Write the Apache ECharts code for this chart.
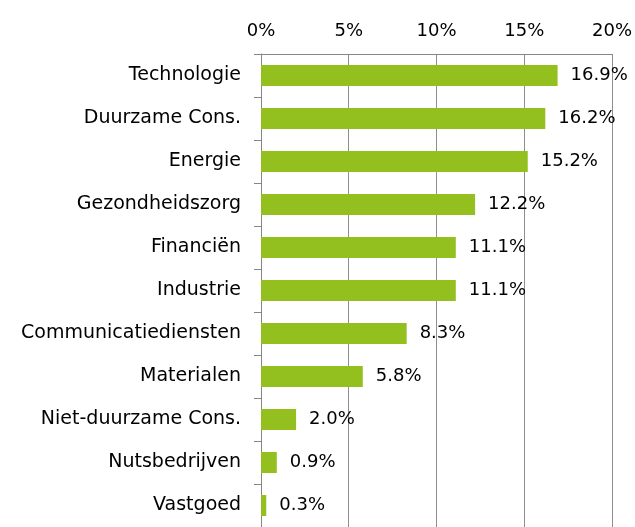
<!DOCTYPE html>
<html>
<head>
<meta charset="UTF-8">
<title>Sectorverdeling</title>
<script src="https://cdn.jsdelivr.net/npm/echarts@6/dist/echarts.min.js"></script>
<style>
html, body { margin:0; padding:0; background:#fff; }
#chart { width:635px; height:527px; }
</style>
</head>
<body>
<div id="chart"></div>
<script type="text/javascript">
// sectoren en weging (%)
var sectors = ['Technologie', 'Duurzame Cons.', 'Energie', 'Gezondheidszorg', 'Financiën', 'Industrie',
	'Communicatiediensten', 'Materialen', 'Niet-duurzame Cons.', 'Nutsbedrijven', 'Vastgoed'];
var weights = [16.9, 16.2, 15.2, 12.2, 11.1, 11.1, 8.3, 5.8, 2.0, 0.9, 0.3];
var ticks = [0, 5, 10, 15, 20];

var font = 'DejaVu Sans';
var chart = echarts.init(document.getElementById('chart'));
chart.setOption({
	animation: false,
	grid: { left: 261, right: 23, top: 54, height: 481 },
	xAxis: {
		type: 'value',
		position: 'top',
		min: ticks[0],
		max: ticks[ticks.length - 1],
		interval: ticks[1] - ticks[0],
		axisLine: { show: true, lineStyle: { color: '#868686', width: 1 } },
		axisTick: { show: false },
		axisLabel: { formatter: '{value}%', color: '#000', fontSize: 18, fontFamily: font, margin: 14 },
		splitLine: { show: true, lineStyle: { color: '#8f8f8f', width: 1 } }
	},
	yAxis: {
		type: 'category',
		inverse: true,
		data: sectors,
		axisLine: { show: true, lineStyle: { color: '#868686', width: 1 } },
		axisTick: { show: true, length: 7, lineStyle: { color: '#868686' } },
		axisLabel: { color: '#000', fontSize: 19, fontFamily: font, margin: 20 }
	},
	series: [{
		type: 'bar',
		data: weights,
		barWidth: 21,
		itemStyle: { color: '#93c01f' },
		label: {
			show: true,
			position: 'right',
			distance: 13,
			color: '#000',
			fontSize: 18,
			fontFamily: font,
			formatter: function (p) { return p.value.toFixed(1) + '%'; }
		}
	}]
});
</script>
</body>
</html>
